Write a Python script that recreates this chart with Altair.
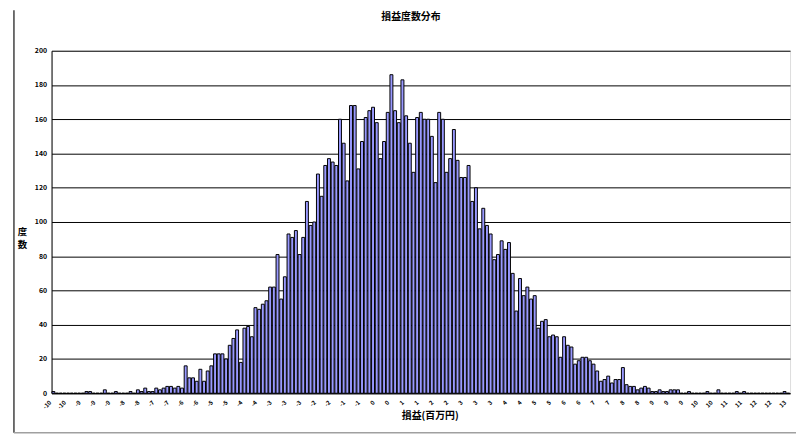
import json
import altair as alt
import pandas as pd

# histogram counts, one per class (201 classes)
counts = [
    1, 0, 0, 0, 0, 0, 0, 0, 0, 1,
    1, 0, 0, 0, 2, 0, 0, 1, 0, 0,
    0, 1, 0, 2, 1, 3, 1, 1, 3, 2,
    3, 4, 4, 3, 4, 3, 16, 9, 9, 7,
    14, 7, 13, 16, 23, 23, 23, 20, 28, 32,
    37, 18, 38, 39, 33, 50, 49, 52, 54, 62,
    62, 81, 55, 68, 93, 91, 95, 81, 91, 112,
    98, 100, 128, 115, 133, 137, 135, 133, 160, 146,
    124, 168, 168, 131, 147, 161, 165, 167, 158, 137,
    147, 164, 186, 165, 158, 183, 162, 146, 129, 161,
    164, 160, 160, 150, 123, 164, 160, 129, 137, 154,
    136, 126, 126, 133, 112, 120, 96, 108, 98, 93,
    78, 81, 89, 84, 88, 70, 48, 67, 57, 62,
    55, 57, 38, 42, 43, 33, 34, 33, 21, 33,
    28, 27, 17, 19, 21, 21, 19, 17, 13, 7,
    8, 10, 6, 8, 8, 15, 5, 4, 4, 2,
    3, 4, 3, 1, 1, 2, 1, 1, 2, 2,
    2, 0, 0, 1, 0, 0, 0, 0, 1, 0,
    0, 2, 0, 0, 0, 0, 1, 0, 1, 0,
    0, 0, 0, 0, 0, 0, 0, 0, 0, 1,
    0,
]

# category-axis labels shown on every 4th class
tick_labels = [
    "-10", "-10", "-9", "-9", "-9", "-8", "-8", "-7", "-7", "-6",
    "-6", "-5", "-5", "-4", "-4", "-3", "-3", "-3", "-2", "-2",
    "-1", "-1", "0", "0", "1", "1", "2", "2", "3", "3",
    "3", "4", "4", "5", "5", "6", "6", "7", "7", "8",
    "8", "9", "9", "9", "10", "10", "11", "11", "12", "12",
    "13",
]
label_every = 4
y_ticks = list(range(0, 201, 20))

title_text = "損益度数分布"
x_title = "損益(百万円)"
y_title = ["度", "数"]

FONT = "Noto Sans CJK JP"

classes = list(range(len(counts)))
df = pd.DataFrame({"cls": classes, "count": counts})

label_expr = json.dumps(tick_labels) + "[datum.value / " + str(label_every) + "]"

bars = alt.Chart(df).mark_bar(
    color="#9999FF", stroke="#000000", strokeWidth=1.0
).encode(
    x=alt.X(
        "cls:O",
        scale=alt.Scale(domain=classes, paddingInner=0.2, paddingOuter=0.1),
        axis=alt.Axis(
            values=list(range(0, len(counts), label_every)),
            labelExpr=label_expr,
            labelAngle=315,
            labelAlign="right",
            labelBaseline="middle",
            labelFont=FONT,
            labelFontSize=6,
            labelFontWeight="bold",
            labelColor="#000000",
            labelPadding=8,
            labelOffset=-3,
            labelOverlap=False,
            ticks=False,
            domainColor="#000000",
            grid=False,
            title=x_title,
            titleFont=FONT,
            titleFontSize=10,
            titleFontWeight="bold",
            titleColor="#000000",
            titleX=382,
            titleY=22,
            titleAlign="center",
            titleBaseline="middle",
        ),
    ),
    y=alt.Y(
        "count:Q",
        scale=alt.Scale(domain=[0, 200], nice=False),
        axis=alt.Axis(
            values=y_ticks,
            labelFont=FONT,
            labelFontSize=7,
            labelFontWeight="bold",
            labelColor="#000000",
            labelPadding=5,
            ticks=False,
            domainColor="#000000",
            grid=True,
            gridColor="#000000",
            gridWidth=1,
            title=y_title,
            titleFont=FONT,
            titleFontSize=9.5,
            titleFontWeight="bold",
            titleColor="#000000",
            titleAngle=0,
            titleAlign="center",
            titleBaseline="middle",
            titleLineHeight=13,
            titleX=-30,
            titleY=183,
        ),
    ),
)

one_row = alt.Data(values=[{"t": title_text}])

title_mark = alt.Chart(one_row).mark_text(
    font=FONT, fontSize=10, fontWeight="bold", color="#000000",
    align="center", baseline="middle",
).encode(text="t:N", x=alt.value(363), y=alt.value(-34))

frame_left = alt.Chart(one_row).mark_rule(
    color="#404040", strokeWidth=1.5
).encode(x=alt.value(-38), y=alt.value(-41), y2=alt.value(386))

frame_bottom = alt.Chart(one_row).mark_rule(
    color="#a0a0a0", strokeWidth=1.5
).encode(x=alt.value(-38), x2=alt.value(752), y=alt.value(386))

chart = alt.layer(bars, frame_left, frame_bottom, title_mark).properties(
    width=746,
    height=346,
    autosize=alt.AutoSizeParams(type="none"),
    padding={"left": 44, "top": 41, "right": 6, "bottom": 41},
).configure_view(
    stroke="#808080", strokeWidth=1
).configure(background="#ffffff")

chart.save("out.html", embed_options={"renderer": "svg", "actions": False})
